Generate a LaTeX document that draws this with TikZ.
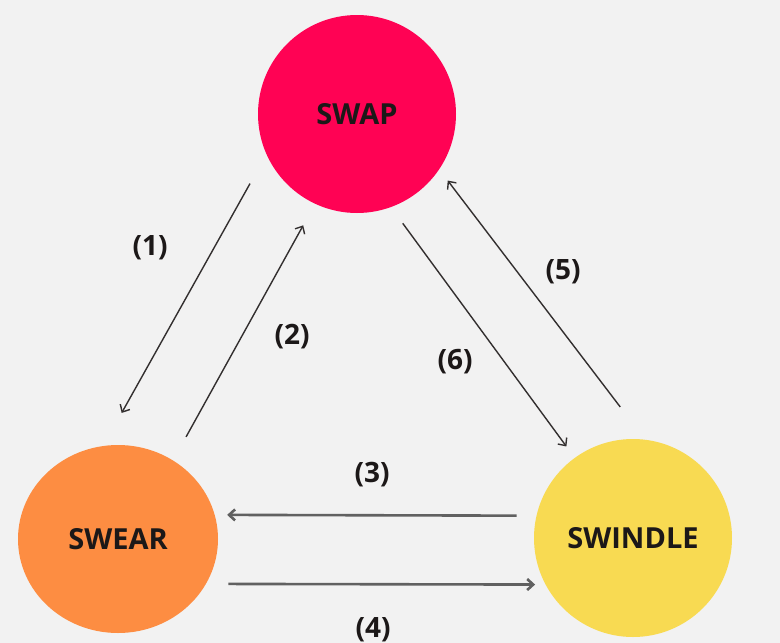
\documentclass[tikz,border=0pt]{standalone}
\usepackage{fontspec}
\setmainfont{Open Sans}
\usetikzlibrary{arrows.meta,shapes.geometric,positioning}

\definecolor{bggray}{RGB}{242,242,242}
\definecolor{swapred}{RGB}{255,2,84}
\definecolor{swearorange}{RGB}{253,141,66}
\definecolor{swindleyellow}{RGB}{248,218,82}
\definecolor{inkgray}{RGB}{28,24,24}

\begin{document}
\begin{tikzpicture}[>={Straight Barb[length=6pt,width=11pt]},x=1pt,y=-1pt,
    word/.style={circle,minimum size=198pt,inner sep=0pt,text=inkgray,
                 font=\fontsize{29}{33}\selectfont\bfseries},
    num/.style={text=inkgray,font=\fontsize{28}{32}\selectfont\bfseries},
    slant/.style={->,draw=inkgray!90,line width=1.4pt},
    flat/.style={->,draw=black!62,line width=2.6pt}]

                \fill[bggray] (0,0) rectangle (780,643);
                \useasboundingbox (0,0) rectangle (780,643);

                \node[word,fill=swapred] (swap) at (357,114) {SWAP};

                \node[word,ellipse,minimum width=200pt,minimum height=188pt,fill=swearorange] (swear) at (118,539) {SWEAR};

                \node[word,fill=swindleyellow] (swindle) at (633,538) {SWINDLE};

                

                \draw[slant,shorten <=33.5pt,shorten >=37.7pt] (swap.204) -- (swear.99);

                \draw[slant,shorten <=26.8pt,shorten >=24.5pt] (swear.55) -- (swap.245);

                \draw[flat,shorten <=19.7pt,shorten >=12.3pt] (swindle.167) -- (swear.14);

                \draw[flat,shorten <=22.2pt,shorten >=10.3pt] (swear.333) -- (swindle.208);

                \draw[slant,shorten <=41pt,shorten >=14pt] (swindle.83) -- (swap.326);

                \draw[slant,shorten <=20pt,shorten >=14pt] (swap.290) -- (swindle.126);

                

                \node[num] (n1) at (150,248) {(1)};

                \node[num] (n2) at (292,337) {(2)};

                \node[num] (n3) at (372,475) {(3)};

                \node[num] (n4) at (373,630) {(4)};

                \node[num] (n5) at (563,272) {(5)};

                \node[num] (n6) at (455,362) {(6)};

            \end{tikzpicture}
\end{document}
